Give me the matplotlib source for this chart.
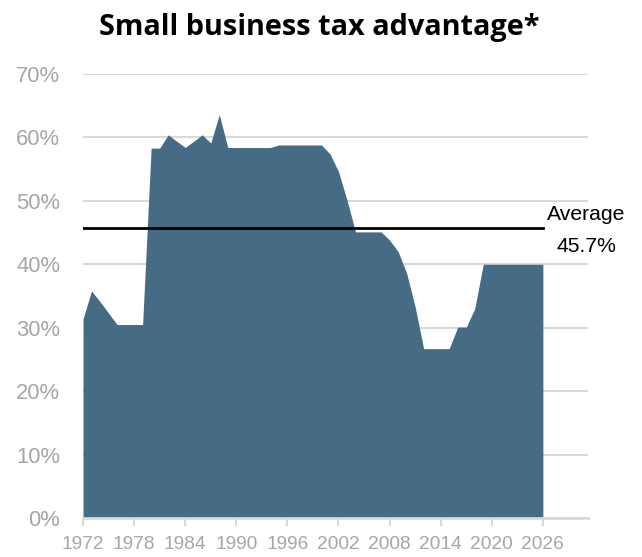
import matplotlib.pyplot as plt
import numpy as np

# Small business tax advantage, percent, by year
years = list(range(1972, 2027))
advantage = [
    31.4, 35.8, 34.1, 32.3, 30.5, 30.5, 30.5, 30.5,   # 1972-1979
    58.3, 58.3, 60.4, 59.4, 58.4, 59.4, 60.4, 59.1,   # 1980-1987
    63.6, 58.4, 58.4, 58.4, 58.4, 58.4, 58.4, 58.8,   # 1988-1995
    58.8, 58.8, 58.8, 58.8, 58.8, 57.4, 54.6, 50.1,   # 1996-2003
    45.1, 45.1, 45.1, 45.1, 43.8, 42.0, 38.6, 33.3,   # 2004-2011
    26.7, 26.7, 26.7, 26.7, 30.1, 30.1, 33.0, 40.0,   # 2012-2019
    40.0, 40.0, 40.0, 40.0, 40.0, 40.0, 40.0,         # 2020-2026
]
average = 45.7
tick_years = list(range(1972, 2027, 6))
y_ticks = list(range(0, 71, 10))

area_color = '#466b85'
grid_color = '#d9d9d9'
label_color = '#a6a6a6'

fig = plt.figure(figsize=(6.42, 5.57), dpi=100)
ax = fig.add_axes([0.1293, 0.0700, 0.7866, 0.7973])

ax.fill_between(years, advantage, 0, color=area_color, linewidth=0, zorder=2)
ax.plot([years[0], years[-1]], [average, average], color='black', linewidth=2, zorder=3)

# label for the average line, sitting past the end of the data
ax.text(2031.1, 46.9, 'Average', ha='center', va='baseline', fontsize=15.2,
        family='Liberation Sans', color='black')
ax.text(2031.1, 42.0, f'{average:.1f}%', ha='center', va='baseline', fontsize=15.2,
        family='Liberation Sans', color='black')

ax.set_xlim(1972, 2031.3)
ax.set_ylim(0, 70)
ax.set_yticks(y_ticks)
ax.set_yticklabels([f'{v}%' for v in y_ticks])
ax.set_xticks(tick_years)
ax.set_xticklabels([str(y) for y in tick_years])

ax.grid(axis='y', color=grid_color, linewidth=1.5, zorder=1)
ax.set_axisbelow(True)
for side in ['top', 'right', 'left']:
    ax.spines[side].set_visible(False)
ax.spines['bottom'].set_color(grid_color)
ax.spines['bottom'].set_linewidth(2)
ax.spines['bottom'].set_zorder(4)

ax.tick_params(axis='y', length=0, pad=16.5, labelsize=15.8, labelcolor=label_color)
ax.tick_params(axis='x', length=6, width=1.5, color=grid_color, pad=7,
               labelsize=13.8, labelcolor=label_color)
for lab in ax.get_xticklabels() + ax.get_yticklabels():
    lab.set_family('Liberation Sans')

fig.text(0.498, 0.9515, 'Small business tax advantage*', ha='center', va='center',
         fontsize=20.8, fontweight='bold', family='Open Sans')

fig.savefig('out.png', dpi=100)
